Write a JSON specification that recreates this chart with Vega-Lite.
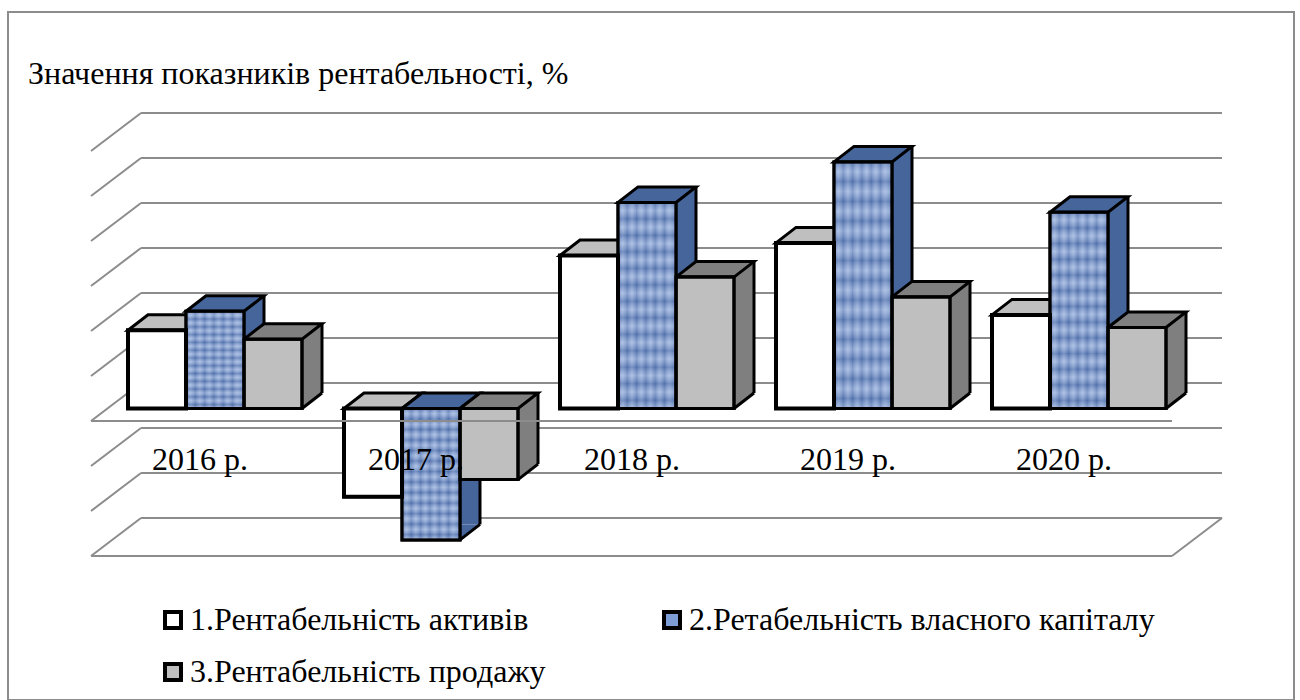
{
"$schema":"https://vega.github.io/schema/vega-lite/v6.json",
"width":1286,"height":688,"autosize":"none","padding":{"left":8,"top":12,"right":6,"bottom":0},
"background":"white",
"config":{"view":{"stroke":"#8c8c8c","strokeWidth":2},"font":"Liberation Serif"},
"title":{"text":"Значення показників рентабельності, %","anchor":"start","frame":"group","font":"Liberation Serif","fontSize":32,"fontWeight":"normal","color":"black","dx":20,"dy":79,"offset":0},
"datasets":{
"rows":[
{"year":"2016 р.","series":"1.Рентабельність активів","value":8.7},
{"year":"2016 р.","series":"2.Ретабельність власного капіталу","value":10.8},
{"year":"2016 р.","series":"3.Рентабельність продажу","value":7.7},
{"year":"2017 р.","series":"1.Рентабельність активів","value":-9.8},
{"year":"2017 р.","series":"2.Ретабельність власного капіталу","value":-14.6},
{"year":"2017 р.","series":"3.Рентабельність продажу","value":-7.9},
{"year":"2018 р.","series":"1.Рентабельність активів","value":17},
{"year":"2018 р.","series":"2.Ретабельність власного капіталу","value":22.9},
{"year":"2018 р.","series":"3.Рентабельність продажу","value":14.6},
{"year":"2019 р.","series":"1.Рентабельність активів","value":18.4},
{"year":"2019 р.","series":"2.Ретабельність власного капіталу","value":27.4},
{"year":"2019 р.","series":"3.Рентабельність продажу","value":12.4},
{"year":"2020 р.","series":"1.Рентабельність активів","value":10.4},
{"year":"2020 р.","series":"2.Ретабельність власного капіталу","value":21.8},
{"year":"2020 р.","series":"3.Рентабельність продажу","value":9}
],
"ticks":[{"tick":-15},{"tick":-10},{"tick":-5},{"tick":0},{"tick":5},{"tick":10},{"tick":15},{"tick":20},{"tick":25},{"tick":30}]
},
"data":{"name":"rows"},
"encoding":{
"x":{"field":"year","type":"nominal","scale":{"type":"band","domain":["2016 р.","2017 р.","2018 р.","2019 р.","2020 р."],"range":[99,1179],"paddingInner":0,"paddingOuter":0},"axis":null},
"y":{"field":"value","type":"quantitative","stack":null,"scale":{"domain":[-30,40],"range":[666.5,36.5],"nice":false,"zero":false},"axis":null}
},
"layer":[
{"data":{"name":"ticks"},"mark":{"type":"rule","color":"#8c8c8c","strokeWidth":2,"xOffset":-74,"x2Offset":143,"yOffset":-25.5},"encoding":{"x":{"datum":"2016 р.","type":"nominal","axis":null},"x2":{"datum":"2020 р."},"y":{"field":"tick","type":"quantitative","axis":null}}},
{"data":{"name":"ticks"},"mark":{"type":"rule","color":"#8c8c8c","strokeWidth":2,"xOffset":-124,"x2Offset":-74,"yOffset":12.5,"y2Offset":-25.5},"encoding":{"x":{"datum":"2016 р.","type":"nominal","axis":null},"x2":{"datum":"2016 р."},"y":{"field":"tick","type":"quantitative","axis":null},"y2":{"field":"tick"}}},
{"data":{"name":"ticks"},"transform":[{"filter":"datum.tick==-15"}],"mark":{"type":"rule","color":"#8c8c8c","strokeWidth":2,"xOffset":-124,"x2Offset":93,"yOffset":12.5},"encoding":{"x":{"datum":"2016 р.","type":"nominal","axis":null},"x2":{"datum":"2020 р."},"y":{"field":"tick","type":"quantitative","axis":null}}},
{"data":{"name":"ticks"},"transform":[{"filter":"datum.tick==-15"}],"mark":{"type":"rule","color":"#8c8c8c","strokeWidth":2,"xOffset":93,"x2Offset":143,"yOffset":12.5,"y2Offset":-25.5},"encoding":{"x":{"datum":"2020 р.","type":"nominal","axis":null},"x2":{"datum":"2020 р."},"y":{"field":"tick","type":"quantitative","axis":null},"y2":{"field":"tick"}}},

{"transform":[{"filter":"indexof(datum.series,'1.')==0"}],"mark":{"type":"bar","size":20,"xOffset":-19,"yOffset":-15.5,"y2Offset":-15.5,"opacity":1},"encoding":{"y2":{"datum":0},"color":{"field":"series","type":"nominal","legend":null,"scale":{"domain":["1.Рентабельність активів","2.Ретабельність власного капіталу","3.Рентабельність продажу"],"range":["#bfbfbf","#45659b","#7f7f7f"]}}}},
{"transform":[{"filter":"indexof(datum.series,'2.')==0"}],"mark":{"type":"bar","size":20,"xOffset":39,"yOffset":-15.5,"y2Offset":-15.5,"opacity":1},"encoding":{"y2":{"datum":0},"color":{"field":"series","type":"nominal","legend":null}}},
{"transform":[{"filter":"indexof(datum.series,'3.')==0"}],"mark":{"type":"bar","size":20,"xOffset":97,"yOffset":-15.5,"y2Offset":-15.5,"opacity":1},"encoding":{"y2":{"datum":0},"color":{"field":"series","type":"nominal","legend":null}}},

{"transform":[{"filter":"datum.value>=0"}],"mark":{"type":"point","filled":true,"opacity":1,"size":4,"shape":"M29,0L49,-15.5L29,-15.5Z","strokeWidth":0},"encoding":{"y":{"datum":0,"type":"quantitative","axis":null},"xOffset":{"field":"series","type":"nominal","scale":{"type":"band","range":[21,195],"paddingInner":0,"paddingOuter":0}},"color":{"field":"series","type":"nominal","legend":null}}},
{"transform":[{"filter":"datum.value<0"}],"mark":{"type":"point","filled":true,"opacity":1,"size":4,"shape":"M29,0L49,-15.5L29,-15.5Z","strokeWidth":0},"encoding":{"xOffset":{"field":"series","type":"nominal"},"color":{"field":"series","type":"nominal","legend":null}}},
{"transform":[{"filter":"datum.value>=0"}],"mark":{"type":"point","filled":false,"opacity":1,"size":4,"shape":"M29,0L49,-15.5","stroke":"black","strokeWidth":3},"encoding":{"y":{"datum":0,"type":"quantitative","axis":null},"xOffset":{"field":"series","type":"nominal"}}},
{"transform":[{"filter":"datum.value<0"}],"mark":{"type":"point","filled":false,"opacity":1,"size":4,"shape":"M29,0L49,-15.5","stroke":"black","strokeWidth":3},"encoding":{"xOffset":{"field":"series","type":"nominal"}}},

{"transform":[{"filter":"indexof(datum.series,'1.')==0"}],"mark":{"type":"rule","xOffset":-9,"yOffset":-15.5,"y2Offset":-15.5,"stroke":"black","strokeWidth":3},"encoding":{"y2":{"datum":0}}},
{"transform":[{"filter":"indexof(datum.series,'2.')==0"}],"mark":{"type":"rule","xOffset":49,"yOffset":-15.5,"y2Offset":-15.5,"stroke":"black","strokeWidth":3},"encoding":{"y2":{"datum":0}}},
{"transform":[{"filter":"indexof(datum.series,'3.')==0"}],"mark":{"type":"rule","xOffset":107,"yOffset":-15.5,"y2Offset":-15.5,"stroke":"black","strokeWidth":3},"encoding":{"y2":{"datum":0}}},

{"transform":[{"filter":"datum.value>=0"}],"mark":{"type":"point","filled":true,"opacity":1,"size":4,"shape":"M-29,0L-9,-15.5L49,-15.5L29,0Z","stroke":"black","strokeWidth":3},"encoding":{"xOffset":{"field":"series","type":"nominal"},"color":{"field":"series","type":"nominal","legend":null}}},
{"transform":[{"filter":"datum.value<0"}],"mark":{"type":"point","filled":true,"opacity":1,"size":4,"shape":"M-29,0L-9,-15.5L49,-15.5L29,0Z","stroke":"black","strokeWidth":3},"encoding":{"y":{"datum":0,"type":"quantitative","axis":null},"xOffset":{"field":"series","type":"nominal"},"color":{"field":"series","type":"nominal","legend":null}}},

{"mark":{"type":"bar","stroke":"black","strokeWidth":3,"opacity":1},"encoding":{"y2":{"datum":0},"xOffset":{"field":"series","type":"nominal"},
"fill":{"field":"series","type":"nominal","scale":{"domain":["1.Рентабельність активів","3.Рентабельність продажу","2.Ретабельність власного капіталу"],"range":["#ffffff","#bfbfbf","#7d9dd6"]},
"legend":{"title":null,"orient":"none","legendX":149,"legendY":592,"columns":2,"symbolType":"square","symbolSize":256,"symbolStrokeColor":"black","symbolStrokeWidth":4,"symbolOpacity":1,"labelFont":"Liberation Serif","labelFontSize":32,"labelColor":"black","labelLimit":700,"rowPadding":20,"columnPadding":110,"labelOffset":1}}}},

{"transform":[{"filter":"indexof(datum.series,'2.')==0"}],"mark":{"type":"bar","opacity":1,"strokeWidth":0,"fill":{"gradient":"linear","x1":0,"x2":1,"y1":0,"y2":0,"stops":[
{"offset":0,"color":"rgba(40,70,130,0.3)"},{"offset":0.08,"color":"rgba(255,255,255,0.22)"},{"offset":0.16,"color":"rgba(40,70,130,0.3)"},{"offset":0.24,"color":"rgba(255,255,255,0.22)"},{"offset":0.32,"color":"rgba(40,70,130,0.3)"},{"offset":0.4,"color":"rgba(255,255,255,0.22)"},{"offset":0.48,"color":"rgba(40,70,130,0.3)"},{"offset":0.56,"color":"rgba(255,255,255,0.22)"},{"offset":0.64,"color":"rgba(40,70,130,0.3)"},{"offset":0.72,"color":"rgba(255,255,255,0.22)"},{"offset":0.8,"color":"rgba(40,70,130,0.3)"},{"offset":0.88,"color":"rgba(255,255,255,0.22)"},{"offset":1,"color":"rgba(40,70,130,0.3)"}]}},"encoding":{"y2":{"datum":0},"xOffset":{"field":"series","type":"nominal"}}},
{"transform":[{"filter":"indexof(datum.series,'2.')==0"}],"mark":{"type":"bar","opacity":1,"strokeWidth":0,"fill":{"gradient":"linear","x1":0,"x2":0,"y1":0,"y2":1,"stops":[
{"offset":0,"color":"rgba(40,70,130,0.3)"},{"offset":0.04,"color":"rgba(255,255,255,0.22)"},{"offset":0.08,"color":"rgba(40,70,130,0.3)"},{"offset":0.12,"color":"rgba(255,255,255,0.22)"},{"offset":0.16,"color":"rgba(40,70,130,0.3)"},{"offset":0.2,"color":"rgba(255,255,255,0.22)"},{"offset":0.24,"color":"rgba(40,70,130,0.3)"},{"offset":0.28,"color":"rgba(255,255,255,0.22)"},{"offset":0.32,"color":"rgba(40,70,130,0.3)"},{"offset":0.36,"color":"rgba(255,255,255,0.22)"},{"offset":0.4,"color":"rgba(40,70,130,0.3)"},{"offset":0.44,"color":"rgba(255,255,255,0.22)"},{"offset":0.48,"color":"rgba(40,70,130,0.3)"},{"offset":0.52,"color":"rgba(255,255,255,0.22)"},{"offset":0.56,"color":"rgba(40,70,130,0.3)"},{"offset":0.6,"color":"rgba(255,255,255,0.22)"},{"offset":0.64,"color":"rgba(40,70,130,0.3)"},{"offset":0.68,"color":"rgba(255,255,255,0.22)"},{"offset":0.72,"color":"rgba(40,70,130,0.3)"},{"offset":0.76,"color":"rgba(255,255,255,0.22)"},{"offset":0.8,"color":"rgba(40,70,130,0.3)"},{"offset":0.84,"color":"rgba(255,255,255,0.22)"},{"offset":0.88,"color":"rgba(40,70,130,0.3)"},{"offset":0.92,"color":"rgba(255,255,255,0.22)"},{"offset":0.96,"color":"rgba(40,70,130,0.3)"},{"offset":1,"color":"rgba(255,255,255,0.22)"}]}},"encoding":{"y2":{"datum":0},"xOffset":{"field":"series","type":"nominal"}}},

{"mark":{"type":"bar","fillOpacity":0,"stroke":"black"},"encoding":{"y2":{"datum":0},"xOffset":{"field":"series","type":"nominal"},"strokeWidth":{"condition":{"test":"indexof(datum.series,'1.')==0","value":4},"value":3}}},

{"data":{"name":"ticks"},"transform":[{"filter":"datum.tick==0"}],"mark":{"type":"rule","color":"#8c8c8c","strokeWidth":2,"xOffset":-124,"x2Offset":93,"yOffset":12.5},"encoding":{"x":{"datum":"2016 р.","type":"nominal","axis":null},"x2":{"datum":"2020 р."},"y":{"field":"tick","type":"quantitative","axis":null}}},

{"transform":[{"filter":"indexof(datum.series,'1.')==0"}],"mark":{"type":"text","font":"Liberation Serif","fontSize":32,"color":"black","dx":-15,"baseline":"middle","align":"center"},"encoding":{"y":{"datum":-5.7,"type":"quantitative","axis":null},"text":{"field":"year"}}}
]
}
